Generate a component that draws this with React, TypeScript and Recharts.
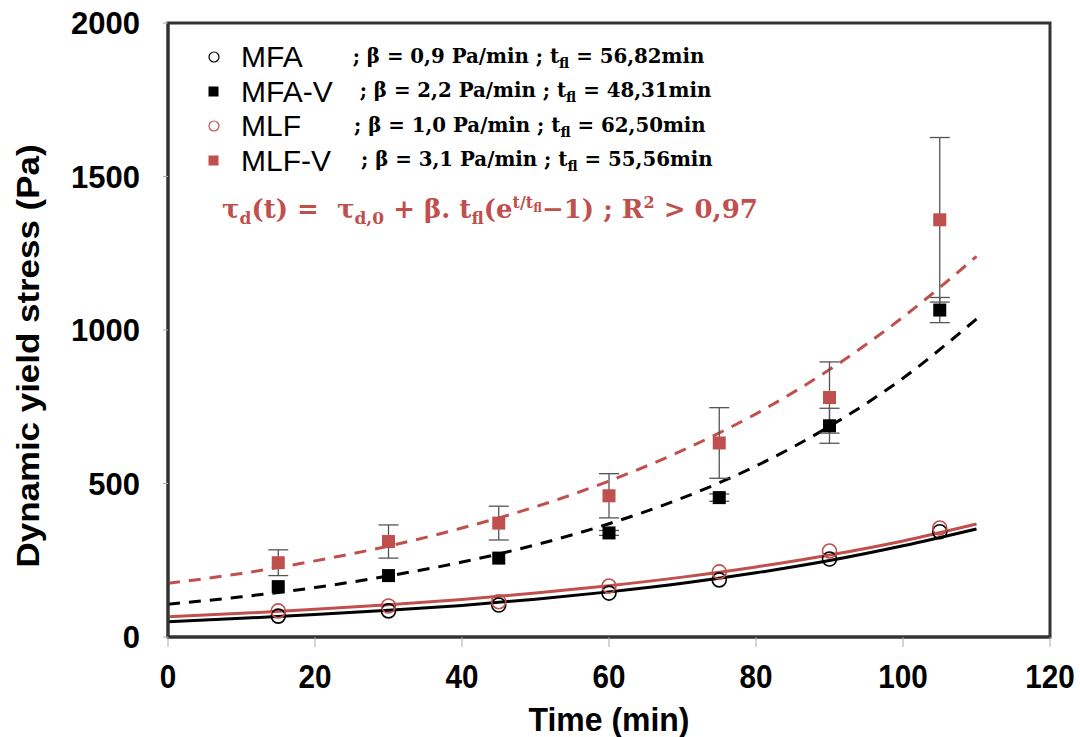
import { ComposedChart, Line, Scatter, XAxis, YAxis, ErrorBar, ReferenceArea, Legend } from 'recharts';

const RED = '#C0504D';

// measured points (min, Pa)
const times = [15, 30, 45, 60, 75, 90, 105];
const mfa = [68, 85, 104, 143, 186, 254, 343];
const mlf = [85, 101, 115, 166, 212, 280, 355];
const mfaV = [164, 200, 257, 339, 454, 688, 1065];
const mfaVErr = [0, 0, 0, 8, 12, 57, 41];
const mlfV = [242, 311, 371, 460, 632, 780, 1359];
const mlfVErr = [42, 54, 55, 72, 115, 116, 268];

// fitted curves
const fitTimes = [0, 10, 20, 30, 40, 50, 60, 70, 80, 90, 100, 110];
const fitMfa = [50, 61, 73, 87, 103, 123, 147, 175, 209, 249, 297, 352];
const fitMlf = [66, 77, 90, 105, 122, 143, 167, 195, 228, 267, 313, 368];
const fitMfaV = [107, 131, 161, 199, 244, 300, 369, 453, 557, 686, 843, 1036];
const fitMlfV = [175, 207, 248, 296, 355, 424, 508, 608, 727, 871, 1042, 1240];

const xTicks = [0, 20, 40, 60, 80, 100, 120];
const yTicks = [0, 500, 1000, 1500, 2000];

const legendNames = ['MFA', 'MFA-V', 'MLF', 'MLF-V'];
const legendBeta = ['0,9', '2,2', '1,0', '3,1'];
const legendTfl = ['56,82', '48,31', '62,50', '55,56'];
const legendColors = ['#000', '#000', RED, RED];
const legendFilled = [false, true, false, true];
const legendGap = [50, 27, 53, 30];

const toPts = (xs: number[], ys: number[], errs?: number[]) =>
  xs.map((t, i) => ({ t, y: ys[i], err: errs ? errs[i] : 0 }));

const mfaData = toPts(times, mfa);
const mlfData = toPts(times, mlf);
const mfaVData = toPts(times, mfaV, mfaVErr);
const mlfVData = toPts(times, mlfV, mlfVErr);

const OpenCircle = (color: string) => (props: any) => (
  <circle cx={props.cx} cy={props.cy} r={7} fill="none" stroke={color} strokeWidth={1.6} />
);
const FilledSquare = (color: string) => (props: any) => (
  <rect x={props.cx - 6.5} y={props.cy - 6.5} width={13} height={13} fill={color} />
);

// narrow, tall tick labels like the original
const XTick = ({ x, y, payload }: any) => {
  const s = String(payload.value);
  return (
    <text
      x={x}
      y={y}
      dy="0.75em"
      textAnchor="middle"
      fontFamily="Liberation Sans, Arial, sans-serif"
      fontWeight="bold"
      fontSize={33}
      textLength={s.length * 16.5}
      lengthAdjust="spacingAndGlyphs"
      fill="#000"
    >
      {s}
    </text>
  );
};

const YTitle = ({ viewBox }: any) => {
  const cx = 28;
  const cy = viewBox.y + viewBox.height / 2 + 26;
  return (
    <text
      x={cx}
      y={cy}
      transform={`rotate(-90 ${cx} ${cy})`}
      textAnchor="middle"
      dominantBaseline="central"
      fontFamily="Liberation Sans, Arial, sans-serif"
      fontWeight="bold"
      fontSize={31}
      textLength={423}
      lengthAdjust="spacingAndGlyphs"
      fill="#000"
    >
      Dynamic yield stress (Pa)
    </text>
  );
};

const XTitle = ({ viewBox }: any) => {
  const cx = viewBox.x + viewBox.width / 2;
  return (
    <text
      x={cx}
      y={731}
      textAnchor="middle"
      fontFamily="Liberation Sans, Arial, sans-serif"
      fontWeight="bold"
      fontSize={33}
      textLength={161}
      lengthAdjust="spacingAndGlyphs"
      fill="#000"
    >
      Time (min)
    </text>
  );
};

const serif = 'DejaVu Serif, Liberation Serif, serif';

const LegendBox = () => (
  <div style={{ fontFamily: 'Liberation Sans, Arial, sans-serif' }}>
    {legendNames.map((name, i) => (
      <div key={name} style={{ display: 'flex', alignItems: 'center', height: 34.5, whiteSpace: 'nowrap' }}>
        <svg width={16} height={16} style={{ marginRight: 19 }}>
          {legendFilled[i] ? (
            <rect x={2.5} y={2.5} width={10} height={10} fill={legendColors[i]} />
          ) : (
            <circle cx={8} cy={8} r={5} fill="none" stroke={legendColors[i]} strokeWidth={1.2} />
          )}
        </svg>
        <span style={{ fontSize: 30, color: '#000', marginRight: legendGap[i] }}>{name}</span>
        <span style={{ fontFamily: serif, fontWeight: 'bold', fontSize: 19.8, color: '#000' }}>
          ; β = {legendBeta[i]} Pa/min ; t<sub style={{ fontSize: 14 }}>fl</sub> = {legendTfl[i]}min
        </span>
      </div>
    ))}
    <div
      style={{
        marginTop: 15,
        marginLeft: 16,
        fontFamily: serif,
        fontWeight: 'bold',
        fontSize: 26,
        color: RED,
        whiteSpace: 'nowrap',
      }}
    >
      τ<sub style={{ fontSize: 17 }}>d</sub>(t) =&nbsp; τ<sub style={{ fontSize: 17 }}>d,0</sub> + β. t
      <sub style={{ fontSize: 17 }}>fl</sub>(e
      <sup style={{ fontSize: 16 }}>
        t/t<sub style={{ fontSize: 12 }}>fl</sub>
      </sup>
      −1) ; R<sup style={{ fontSize: 16 }}>2</sup> &gt; 0,97
    </div>
  </div>
);

export default function App() {
  return (
    <div style={{ position: 'absolute', left: 0, top: 0, width: 1080, height: 737, background: '#fff' }}>
      <ComposedChart width={1080} height={737} margin={{ top: 23, right: 30, bottom: 0, left: 0 }}>
        <XAxis
          type="number"
          dataKey="t"
          domain={[0, 120]}
          ticks={xTicks}
          allowDataOverflow
          height={100}
          axisLine={{ stroke: '#333', strokeWidth: 3 }}
          tickLine={{ stroke: '#aaa', strokeWidth: 1 }}
          tickSize={10}
          tickMargin={16}
          tick={<XTick />}
          label={<XTitle />}
        />
        <YAxis
          type="number"
          dataKey="y"
          domain={[0, 2000]}
          ticks={yTicks}
          allowDataOverflow
          width={168}
          axisLine={{ stroke: '#333', strokeWidth: 3 }}
          tickLine={{ stroke: '#aaa', strokeWidth: 1 }}
          tickSize={5}
          tickMargin={23}
          tick={{ fill: '#000', fontSize: 31, fontWeight: 'bold', fontFamily: 'Liberation Sans, Arial' }}
          label={<YTitle />}
        />
        <ReferenceArea x1={0} x2={120} y1={0} y2={2000} fill="none" stroke="#333" strokeWidth={3} />

        <Line data={toPts(fitTimes, fitMfa)} dataKey="y" type="monotone" stroke="#000" strokeWidth={3} dot={false} isAnimationActive={false} />
        <Line data={toPts(fitTimes, fitMlf)} dataKey="y" type="monotone" stroke={RED} strokeWidth={3} dot={false} isAnimationActive={false} />
        <Line data={toPts(fitTimes, fitMfaV)} dataKey="y" type="monotone" stroke="#000" strokeWidth={3} strokeDasharray="12 9" dot={false} isAnimationActive={false} />
        <Line data={toPts(fitTimes, fitMlfV)} dataKey="y" type="monotone" stroke={RED} strokeWidth={3} strokeDasharray="12 9" dot={false} isAnimationActive={false} />

        <Scatter data={mfaData} dataKey="y" shape={OpenCircle('#000')} isAnimationActive={false} />
        <Scatter data={mlfData} dataKey="y" shape={OpenCircle(RED)} isAnimationActive={false} />
        <Scatter data={mfaVData} dataKey="y" shape={FilledSquare('#000')} isAnimationActive={false}>
          <ErrorBar dataKey="err" direction="y" width={10} stroke="#555" strokeWidth={1.3} />
        </Scatter>
        <Scatter data={mlfVData} dataKey="y" shape={FilledSquare(RED)} isAnimationActive={false}>
          <ErrorBar dataKey="err" direction="y" width={10} stroke="#555" strokeWidth={1.3} />
        </Scatter>

        <Legend
          layout="horizontal"
          verticalAlign="middle"
          align="center"
          content={<LegendBox />}
          wrapperStyle={{ position: 'absolute', top: 40, left: 206, width: 'auto', height: 'auto' }}
        />
      </ComposedChart>
    </div>
  );
}
